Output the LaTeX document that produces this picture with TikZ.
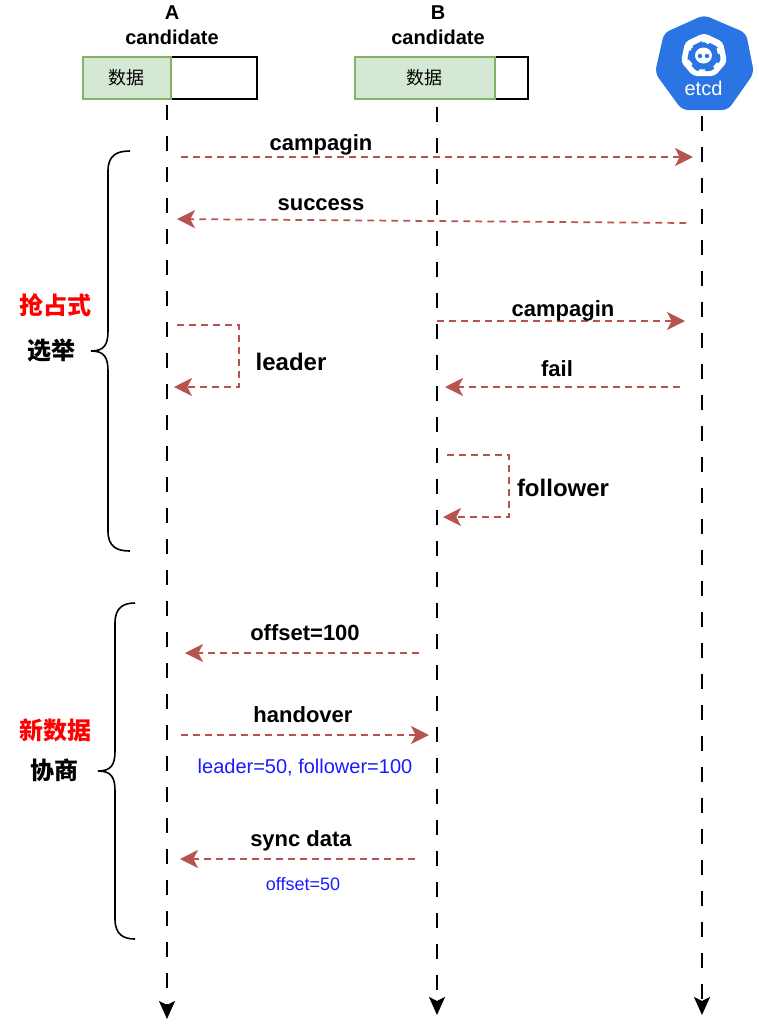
\documentclass[tikz,border=0pt]{standalone}
\usepackage{fontspec}
\setmainfont{Liberation Sans}
\newfontfamily\cjk{Noto Sans CJK SC}
\usetikzlibrary{arrows.meta}
\definecolor{msgred}{HTML}{B85450}
\definecolor{boxgreen}{HTML}{D5E8D4}
\definecolor{boxedge}{HTML}{82B366}
\definecolor{etcdblue}{HTML}{2A75E3}
\definecolor{notered}{HTML}{FF0000}
\definecolor{noteblue}{HTML}{1A1AFF}
\tikzset{
  lifeline/.style={line width=1.5pt,dash pattern=on 11.25pt off 12pt,-{Stealth[length=13.5pt,width=12pt,inset=3pt]}},
  message/.style={draw=msgred,line width=1.3pt,dash pattern=on 5pt off 4pt,-{Stealth[length=13.5pt,width=13.5pt,inset=3.5pt,fill=msgred]}},
  bracket/.style={line width=1.2pt},
  title/.style={font=\fontsize{15}{18}\bfseries\selectfont},
  msglabel/.style={font=\fontsize{16.5}{20}\bfseries\selectfont},
  bigmsg/.style={font=\fontsize{18}{22}\bfseries\selectfont},
  group/.style={font=\fontsize{18}{22}\cjk\bfseries\selectfont},
  greenbox/.style={draw=boxedge,fill=boxgreen,line width=1.5pt,inner sep=0pt,font=\fontsize{13.5}{16}\cjk\selectfont},
  whitebox/.style={draw,line width=1.5pt,inner sep=0pt,fill=white},
}
\begin{document}
\begin{tikzpicture}[x=0.75pt,y=0.75pt,yscale=-1,xscale=1]
\useasboundingbox (0,0) rectangle (758,1036);

% Boxes
\node (boxa2) [whitebox,minimum width=64.5pt,minimum height=31.5pt] at (214,78) {};
\node (boxa1) [greenbox,minimum width=66pt,minimum height=31pt] at (126.5,78) {数据};
\node (boxb2) [whitebox,minimum width=24.75pt,minimum height=31.5pt] at (511.5,78) {};
\node (boxb1) [greenbox,minimum width=105pt,minimum height=31pt] at (424.5,78) {数据};

% Titles
\node (namea) [title] at (172,13) {A};
\node (rolea) [title] at (172,37) {candidate};
\node (nameb) [title] at (438,13) {B};
\node (roleb) [title] at (438,37) {candidate};

% etcd logo
\fill [etcdblue,rounded corners=4.5pt] (704,15) -- (746,33) -- (754,73) -- (728,110) -- (682,110) -- (655,73) -- (664,33) -- cycle;
\fill [white,rounded corners=3pt] (704,33) -- (723,42) -- (727,62) -- (715,76) -- (693,76) -- (681,62) -- (685,42) -- cycle;
\fill [etcdblue,rounded corners=2pt] (704,40) -- (718,47) -- (721,60) -- (712,71) -- (696,71) -- (687,60) -- (690,47) -- cycle;
\draw [white,line width=2.6pt,dash pattern=on 4.5pt off 8pt] (704,40) -- (718,47) -- (721,60) -- (712,71) -- (696,71) -- (687,60) -- (690,47) -- cycle;
\fill [white] (703.5,55.5) ellipse (8.5 and 8);
\fill [etcdblue] (700,56) circle (2.2) (707,56) circle (2.2);
\node (etcdname) [text=white,font=\fontsize{15}{18}\selectfont] at (703.5,88) {etcd};

% Lifelines
\coordinate (atop) at (167,105);
\coordinate (aend) at (167,1019);
\coordinate (btop) at (437,107);
\coordinate (bend) at (437,1015);
\coordinate (ctop) at (702,116);
\coordinate (cend) at (702,1015);
\draw [lifeline] (atop) -- (aend);
\draw [lifeline] (btop) -- (bend);
\draw [lifeline] (ctop) -- (cend);

% Messages
\coordinate (m1a) at (181,157);
\coordinate (m1b) at (693,157);
\draw [message] (m1a) -- (m1b);
\node (m1) [msglabel] at (321,145) {campagin};
\coordinate (m2a) at (686,223);
\coordinate (m2b) at (177,219);
\draw [message] (m2a) -- (m2b);
\node (m2) [msglabel] at (321,205) {success};
\coordinate (m3a) at (437,321);
\coordinate (m3b) at (685,321);
\draw [message] (m3a) -- (m3b);
\node (m3) [msglabel] at (563,311) {campagin};
\coordinate (m4a) at (680,387);
\coordinate (m4b) at (445,387);
\draw [message] (m4a) -- (m4b);
\node (m4) [msglabel] at (557,369) {fail};
\coordinate (m5a) at (177,325);
\coordinate (m5b) at (174,387);
\draw [message] (m5a) -- (239,325) -- (239,387) -- (m5b);
\node (m5) [bigmsg] at (291,362) {leader};
\coordinate (m6a) at (447,455);
\coordinate (m6b) at (443,517);
\draw [message] (m6a) -- (509,455) -- (509,517) -- (m6b);
\node (m6) [bigmsg] at (563,488) {follower};
\coordinate (m7a) at (419,653);
\coordinate (m7b) at (185,653);
\draw [message] (m7a) -- (m7b);
\node (m7) [msglabel] at (305,633) {offset=100};
\coordinate (m8a) at (181,735);
\coordinate (m8b) at (429,735);
\draw [message] (m8a) -- (m8b);
\node (m8) [msglabel] at (303,715) {handover};
\node (n8) [text=noteblue,font=\fontsize{15}{18}\selectfont] at (305,768) {leader=50, follower=100};
\coordinate (m9a) at (415,859);
\coordinate (m9b) at (180,859);
\draw [message] (m9a) -- (m9b);
\node (m9) [msglabel] at (301,841) {sync data};
\node (n9) [text=noteblue,font=\fontsize{13.5}{16}\selectfont] at (303,884) {offset=50};

% Brackets
\draw [bracket] (130,151) .. controls (117,151) and (108,155) .. (108,171) -- (108,331) .. controls (108,345) and (104,351) .. (91,351) .. controls (104,351) and (108,357) .. (108,371) -- (108,531) .. controls (108,547) and (117,551) .. (130,551);
\draw [bracket] (135,603) .. controls (124,603) and (115,607) .. (115,623) -- (115,751) .. controls (115,765) and (111,771) .. (98,771) .. controls (111,771) and (115,777) .. (115,791) -- (115,919) .. controls (115,935) and (124,939) .. (135,939);

% Group labels
\node (g1a) [group,text=notered] at (55,305) {抢占式};
\node (g1b) [group] at (51,350) {选举};
\node (g2a) [group,text=notered] at (55,730) {新数据};
\node (g2b) [group] at (55,770) {协商};

\end{tikzpicture}
\end{document}
